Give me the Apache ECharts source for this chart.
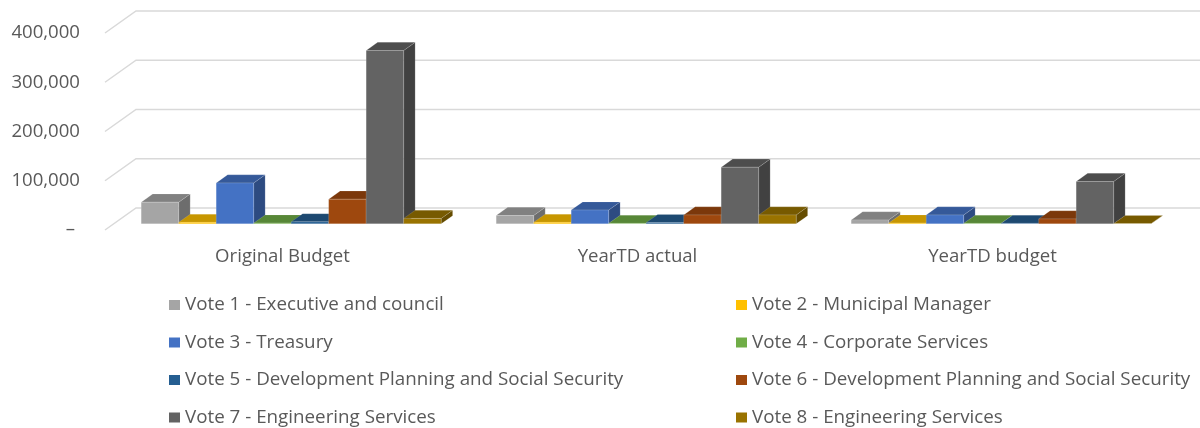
<!DOCTYPE html>
<html>
<head>
<meta charset="utf-8">
<script src="https://cdn.jsdelivr.net/npm/echarts@6/dist/echarts.min.js"></script>
<style>
html,body{margin:0;padding:0;background:#fff;}
#chart{width:1200px;height:428px;}
</style>
</head>
<body>
<div id="chart"></div>
<script>
// ---- data ----
var categories = ['Original Budget', 'YearTD actual', 'YearTD budget'];
var seriesNames = [
  'Vote 1 - Executive and council',
  'Vote 2 - Municipal Manager',
  'Vote 3 - Treasury',
  'Vote 4 - Corporate Services',
  'Vote 5 - Development Planning and Social Security',
  'Vote 6 - Development Planning and Social Security',
  'Vote 7 - Engineering Services',
  'Vote 8 - Engineering Services'
];
var vote1 = [44000, 17000, 8000];
var vote2 = [3000, 3000, 1500];
var vote3 = [83000, 28000, 18000];
var vote4 = [1500, 1000, 1000];
var vote5 = [4000, 2500, 1000];
var vote6 = [50000, 18000, 10000];
var vote7 = [352000, 115000, 86000];
var vote8 = [11000, 18000, 500];
var yTicks = [0, 100000, 200000, 300000, 400000];

var seriesValues = [vote1, vote2, vote3, vote4, vote5, vote6, vote7, vote8];
var colors = ['#A5A5A5', '#FFC000', '#4472C4', '#70AD47', '#255E91', '#9E480E', '#636363', '#997300'];

// ---- 3D look geometry (pixels) ----
var DX = 31, DY = -22;     // full floor depth offset
var A = 0.28, B = 0.65;    // bar front / back depth fractions
var GROUP_FRAC = 0.845;    // share of category band used by cluster
var NS = seriesValues.length;

function shade(hex, f) {
  var n = parseInt(hex.slice(1), 16);
  var r = Math.round(((n >> 16) & 255) * f), g = Math.round(((n >> 8) & 255) * f), b = Math.round((n & 255) * f);
  return 'rgb(' + r + ',' + g + ',' + b + ')';
}

function makeBarRender(j) {
  return function (params, api) {
    var i = api.value(0), v = api.value(1);
    var base = api.coord([i, 0]);
    var top = api.coord([i, v]);
    var band = api.size([1, 0])[0];
    var bw = band * GROUP_FRAC / NS;
    var x0 = base[0] - bw * NS / 2 + j * bw + DX * A;
    var yb = base[1] + DY * A;
    var yt = top[1] + DY * A;
    var ddx = DX * (B - A), ddy = DY * (B - A);
    var col = colors[j];
    return {
      type: 'group',
      children: [
        { type: 'polygon', shape: { points: [[x0 + bw, yb], [x0 + bw + ddx, yb + ddy], [x0 + bw + ddx, yt + ddy], [x0 + bw, yt]] },
          style: { fill: shade(col, 0.66), stroke: 'rgba(255,255,255,0.25)', lineWidth: 0.5 } },
        { type: 'polygon', shape: { points: [[x0, yt], [x0 + bw, yt], [x0 + bw + ddx, yt + ddy], [x0 + ddx, yt + ddy]] },
          style: { fill: shade(col, 0.78), stroke: 'rgba(255,255,255,0.25)', lineWidth: 0.5 } },
        { type: 'rect', shape: { x: x0, y: yt, width: bw, height: yb - yt },
          style: { fill: col, stroke: 'rgba(255,255,255,0.3)', lineWidth: 0.5 } }
      ]
    };
  };
}

var series = [];
series.push({
  type: 'custom',
  name: 'wall',
  silent: true,
  z: 1,
  data: yTicks.map(function (t) { return [0, t]; }),
  encode: { x: 0, y: 1 },
  renderItem: function (params, api) {
    var cs = params.coordSys;
    var y = api.coord([0, api.value(1)])[1];
    return {
      type: 'polyline',
      shape: { points: [[cs.x, y], [cs.x + DX, y + DY], [cs.x + cs.width + DX, y + DY]] },
      style: { stroke: '#D9D9D9', lineWidth: 1.5, fill: null }
    };
  }
});
seriesValues.forEach(function (vals, j) {
  series.push({
    type: 'custom',
    name: seriesNames[j],
    z: 2 + j,
    itemStyle: { color: colors[j] },
    data: vals.map(function (v, i) { return [i, v]; }),
    encode: { x: 0, y: 1 },
    renderItem: makeBarRender(j)
  });
});

var legendText = { color: '#595959', fontSize: 18.8, fontFamily: 'Open Sans', lineHeight: 20 };
function legendCol(left, names) {
  return { orient: 'vertical', left: left, top: 295, padding: 0, itemWidth: 11, itemHeight: 10, itemGap: 17.5,
           icon: 'rect', textStyle: legendText, selectedMode: false, data: names };
}
var chart = echarts.init(document.getElementById('chart'));
chart.setOption({
  animation: false,
  backgroundColor: '#fff',
  grid: { left: 105, right: 30, top: 33, bottom: 198 },
  xAxis: {
    type: 'category',
    data: categories,
    axisLine: { show: false },
    axisTick: { show: false },
    axisLabel: { color: '#595959', fontSize: 18.6, fontFamily: 'Open Sans', margin: 17 }
  },
  yAxis: {
    type: 'value',
    min: 0, max: 400000, interval: 100000,
    axisLine: { show: false },
    axisTick: { show: false },
    splitLine: { show: false },
    axisLabel: {
      color: '#595959', fontSize: 18.6, fontFamily: 'Open Sans', margin: 25,
      formatter: function (v) { return v === 0 ? '\u2013 ' : v.toLocaleString('en-US'); }
    }
  },
  legend: [
    legendCol(169, [seriesNames[0], seriesNames[2], seriesNames[4], seriesNames[6]]),
    legendCol(736, [seriesNames[1], seriesNames[3], seriesNames[5], seriesNames[7]])
  ],
  series: series
});
</script>
</body>
</html>
